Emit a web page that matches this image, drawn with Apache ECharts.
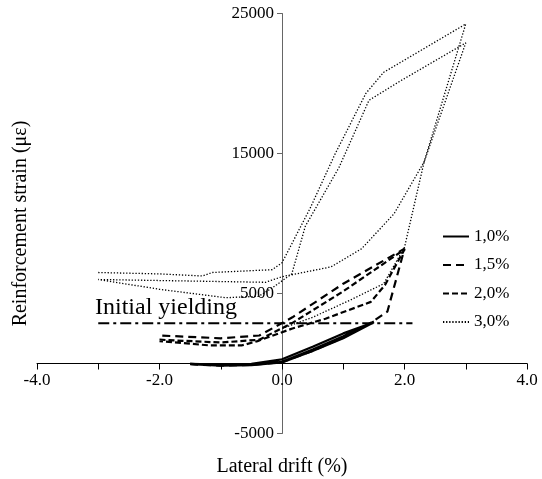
<!DOCTYPE html>
<html>
<head>
<meta charset="utf-8">
<script src="https://cdn.jsdelivr.net/npm/echarts@6/dist/echarts.min.js"></script>
<style>html,body{margin:0;padding:0;background:#fff}#c{width:542px;height:479px}</style>
</head>
<body>
<div id="c"></div>
<script>
// ---- data ----
const legendNames = ['1,0%', '1,5%', '2,0%', '3,0%'];
const xTickLabels = ['-4.0', '-2.0', '0.0', '2.0', '4.0'];

const drift10  = [-1.5, -1.0, -0.5, 0.0, 0.5, 1.0, 1.5, 1.0, 0.5, 0.0, -0.5, -1.0, -1.5, -1.0, -0.5, 0.0, 0.5, 1.0, 1.5];
const strain10 = [-50, -150, -120, 80, 900, 1800, 2950, 2150, 1200, 300, -20, -80, -30, -130, -100, 120, 1000, 1950, 3000];

const drift15  = [-1.5, -1.0, -0.5, 0.0, 0.5, 1.0, 1.45, 1.72, 2.0, 1.0, 0.17, -0.37, -1.0, -2.0];
const strain15 = [-50, -150, -100, 100, 900, 1850, 2900, 3700, 8200, 5700, 3300, 2000, 1800, 2000];

const drift20  = [-2.0, -1.0, -0.37, 0.17, 0.98, 2.0, 1.68, 1.45, 0.71, 0.17, -0.4, -0.65, -1.2, -2.0];
const strain20 = [1700, 1500, 1700, 2900, 5100, 8150, 5600, 4400, 3200, 2500, 1600, 1300, 1300, 1600];

const drift30  = [-3.0, -2.0, -1.3, -1.14, -0.16, 0.0, 0.45, 0.87, 1.37, 1.66, 3.0,
                  2.32, 1.83, 1.3, 0.8, 0.0, -0.27, -3.0,
                  -2.0, -0.92, -0.38, -0.16, 0.16, 0.38, 0.93, 1.42, 1.94, 3.0,
                  2.32, 2.0, 1.66, 1.1, 0.5, 0.0];
const strain30 = [6500, 6400, 6250, 6500, 6700, 7200, 11000, 15000, 19300, 20800, 24250,
                  14400, 10700, 8200, 6900, 6200, 5800, 6000,
                  5300, 4700, 4800, 5400, 6400, 9800, 14000, 18800, 20200, 22900,
                  14400, 8300, 5700, 4500, 3300, 2500];

const yieldDrift  = [-3.0, 2.13];
const yieldStrain = [2870, 2870];
const yieldLabel = 'Initial yielding';

// ---- helpers ----
function pairs(xs, ys) { return xs.map((x, i) => [x, ys[i]]); }
const FONT = 'Liberation Serif';

// grid geometry (pixels)
const G = {left: 37, right: 15, top: 13.5, bottom: 45.5};
const W = 542, H = 479;
const plotW = W - G.left - G.right, plotH = H - G.top - G.bottom;
// shift axes so they cross at the origin
const yAxisShift = -plotW * (0 - (-4)) / 8;          // move y axis right to x = 0
const xAxisShift = -plotH * (0 - (-5000)) / 30000;   // move x axis up to y = 0

const chart = echarts.init(document.getElementById('c'), null, {renderer: 'canvas'});
chart.setOption({
  animation: false,
  backgroundColor: '#fff',
  textStyle: {fontFamily: FONT, color: '#000'},
  grid: {left: G.left, right: G.right, top: G.top, bottom: G.bottom, containLabel: false, outerBoundsMode: 'none'},
  legend: {
    data: legendNames,
    orient: 'vertical',
    left: 437, top: 223,
    itemWidth: 26, itemHeight: 14, itemGap: 11.5,
    itemStyle: {opacity: 0, borderWidth: 0},
    textStyle: {fontFamily: FONT, fontSize: 17, color: '#000'}
  },
  xAxis: {
    type: 'value', min: -4, max: 4, interval: 1, position: 'bottom', offset: xAxisShift,
    name: 'Lateral drift (%)', nameLocation: 'middle', nameGap: 93,
    nameTextStyle: {fontFamily: FONT, fontSize: 20, color: '#000'},
    axisLine: {onZero: false, lineStyle: {color: '#000', width: 1}},
    axisTick: {show: true, length: 6, lineStyle: {color: '#000'}},
    axisLabel: {
      fontFamily: FONT, fontSize: 17, color: '#000', margin: 9,
      formatter: v => { const s = xTickLabels.find(t => parseFloat(t) === v); return s === undefined ? '' : s; }
    },
    splitLine: {show: false}
  },
  yAxis: {
    type: 'value', min: -5000, max: 25000, interval: 10000, position: 'left', offset: yAxisShift,
    name: 'Reinforcement strain (\u03bc\u03b5)', nameLocation: 'middle', nameGap: 251,
    nameTextStyle: {fontFamily: FONT, fontSize: 20, color: '#000'},
    axisLine: {onZero: false, lineStyle: {color: '#666', width: 1}},
    axisTick: {show: true, length: 5, lineStyle: {color: '#666'}},
    axisLabel: {fontFamily: FONT, fontSize: 17, color: '#000', margin: 8, formatter: v => String(v)},
    splitLine: {show: false}
  },
  graphic: [{
    type: 'text', left: 95, top: 296, silent: true,
    style: {text: yieldLabel, font: '24px "Liberation Serif"', fill: '#000'}
  }],
  series: [
    {name: legendNames[0], type: 'line', symbol: 'none', data: pairs(drift10, strain10),
     lineStyle: {color: '#000', width: 2.2, type: 'solid'}, itemStyle: {color: '#000'}},
    {name: legendNames[1], type: 'line', symbol: 'none', data: pairs(drift15, strain15),
     lineStyle: {color: '#000', width: 2.2, type: [8, 5]}, itemStyle: {color: '#000'}},
    {name: legendNames[2], type: 'line', symbol: 'none', data: pairs(drift20, strain20),
     lineStyle: {color: '#000', width: 2.2, type: [6, 3]}, itemStyle: {color: '#000'}},
    {name: legendNames[3], type: 'line', symbol: 'none', data: pairs(drift30, strain30),
     lineStyle: {color: '#000', width: 1.3, type: [1.3, 1.8]}, itemStyle: {color: '#000'}},
    {name: 'yield', type: 'line', symbol: 'none', data: pairs(yieldDrift, yieldStrain),
     lineStyle: {color: '#000', width: 2, type: [11, 4, 3, 4]}, itemStyle: {color: '#000'}}
  ]
});
</script>
</body>
</html>
